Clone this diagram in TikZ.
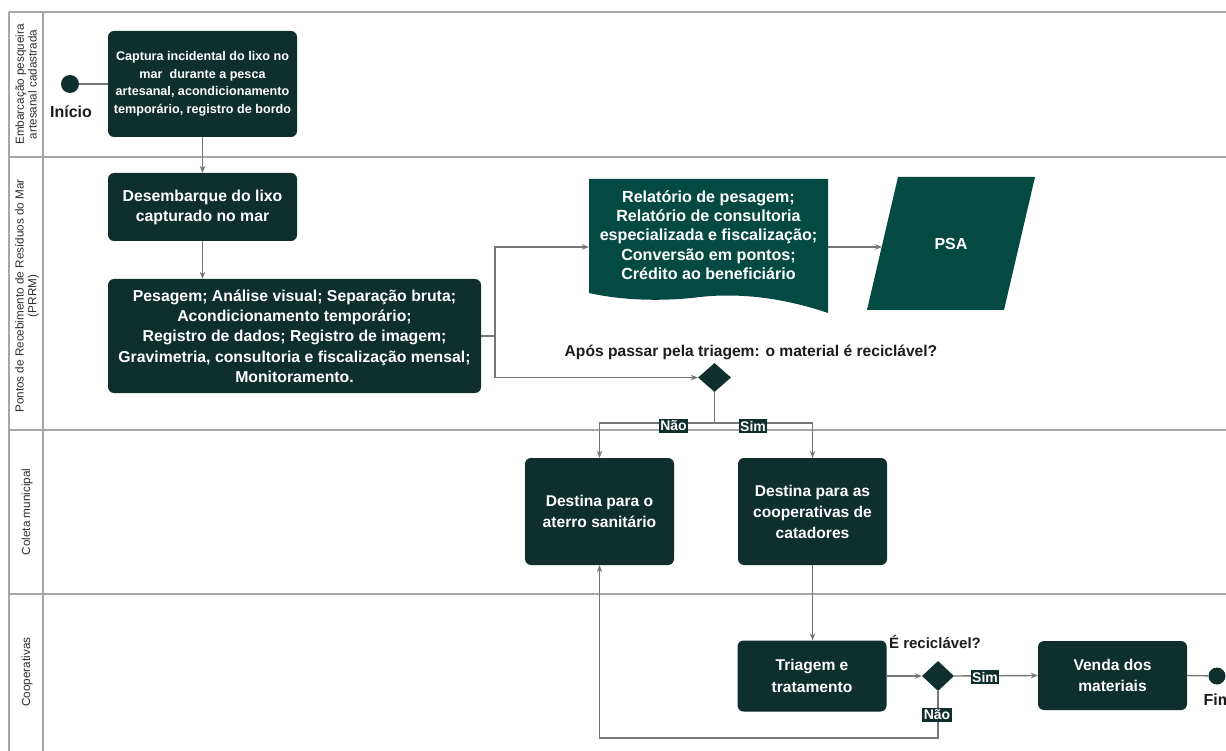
\documentclass[tikz,border=0pt]{standalone}
\usepackage{fontspec}
\setmainfont{Liberation Sans}
\usetikzlibrary{arrows.meta,shapes.geometric,calc}

\definecolor{boxdark}{HTML}{0F2F2C}
\definecolor{boxteal}{HTML}{054A42}
\definecolor{wirec}{HTML}{767676}
\definecolor{lanec}{HTML}{A6A6A6}
\definecolor{lanetext}{HTML}{2E2E2E}
\definecolor{labeltext}{HTML}{1C1C1C}

\newcommand{\fs}[2]{\fontsize{#1}{#2}\selectfont}

\begin{document}
\begin{tikzpicture}[x=1pt,y=-1pt,
  task/.style={rectangle, rounded corners=6pt, fill=boxdark, text=white,
    align=center, inner sep=0pt},
  wire/.style={draw=wirec, line width=1.4pt},
  arr/.style={wire, -{Stealth[length=7pt,width=5.5pt]}},
  laneline/.style={draw=lanec, line width=1.3pt},
  lanelbl/.style={rotate=90, align=center, text=lanetext, font=\fs{11.7}{12.8}},
  yn/.style={fill=boxdark, text=white, font=\fs{14}{16}\bfseries, inner sep=1.5pt},
  endpt/.style={circle, fill=boxdark, minimum size=18pt, inner sep=0pt},
  gate/.style={diamond, fill=boxdark, inner sep=0pt},
  caption/.style={text=labeltext, font=\fs{15}{18}\bfseries}
]
\useasboundingbox (0,0) rectangle (1226,751);
\fill[white] (0,0) rectangle (1226,751);

% swimlane frame
\draw[laneline] (9,12) -- (1230,12);
\draw[laneline] (9,157) -- (1230,157);
\draw[laneline] (9,430) -- (1230,430);
\draw[laneline] (9,594) -- (1230,594);
\draw[laneline] (9,12) -- (9,755);
\draw[laneline] (43,12) -- (43,755);

% lane titles
\node[lanelbl] (lane1) at (26,84.5) {Embarcação pesqueira\\artesanal cadastrada};
\node[lanelbl] (lane2) at (27,296) {Pontos de Recebimento de Resíduos do Mar\\(PRRM)};
\node[lanelbl] (lane3) at (27,512) {Coleta municipal};
\node[lanelbl] (lane4) at (27,672) {Cooperativas};

% lane 1
\node[endpt] (start) at (70,84) {};
\node[text=labeltext, font=\fs{16}{18}\bfseries] (startlbl) at (71,112) {Início};
\node[task, minimum width=189pt, minimum height=106pt, font=\fs{12.6}{17.5}\bfseries]
  (capt) at (202.5,84) {Captura incidental do lixo no\\mar\ \ durante a pesca\\artesanal, acondicionamento\\temporário, registro de bordo};

% lane 2
\node[task, minimum width=189pt, minimum height=68pt, font=\fs{15.8}{20}\bfseries]
  (desemb) at (202.5,207) {Desembarque do lixo\\capturado no mar};
\node[task, minimum width=373pt, minimum height=114pt, font=\fs{15.8}{20.3}\bfseries]
  (pesag) at (294.5,336) {Pesagem; Análise visual; Separação bruta;\\Acondicionamento temporário;\\Registro de dados; Registro de imagem;\\Gravimetria, consultoria e fiscalização mensal;\\Monitoramento.};

% document shape with wavy bottom
\node[minimum width=239pt, minimum height=136pt, inner sep=0pt] (rel) at (708.5,247) {};
\fill[boxteal] (589,293) -- (589,179) -- (828,179) -- (828,313)
  .. controls (790,300) and (745,292) .. (700,297)
  .. controls (660,302) and (620,300) .. (589,293) -- cycle;
\node[text=white, align=center, font=\fs{16.1}{19.2}\bfseries] (reltext) at (708.5,235)
  {Relatório de pesagem;\\Relatório de consultoria\\especializada e fiscalização;\\Conversão em pontos;\\Crédito ao beneficiário};

% data parallelogram
\fill[boxteal] (898,177) -- (1035,177) -- (1004,310) -- (867,310) -- cycle;
\node[text=white, font=\fs{16}{18}\bfseries] (psa) at (951,244) {PSA};
\coordinate (psain) at (882,247);

\node[caption, font=\fs{15.6}{18}\bfseries] (q1lbl) at (751,352) {Após passar pela triagem: o material é reciclável?};
\node[gate, minimum width=33pt, minimum height=29pt] (q1) at (714.5,377.5) {};

% lane 3
\node[task, minimum width=149pt, minimum height=107pt, font=\fs{15.6}{21.5}\bfseries]
  (aterro) at (599.5,511.5) {Destina para o\\aterro sanitário};
\node[task, minimum width=149pt, minimum height=107pt, font=\fs{15.6}{21}\bfseries]
  (coop) at (812.5,511.5) {Destina para as\\cooperativas de\\catadores};

% lane 4
\node[task, minimum width=149pt, minimum height=71pt, font=\fs{15.6}{21.5}\bfseries]
  (triag) at (812,676) {Triagem e\\tratamento};
\node[caption] (q2lbl) at (935,642) {É reciclável?};
\node[gate, minimum width=32pt, minimum height=30pt] (q2) at (938,676) {};
\node[task, minimum width=149pt, minimum height=69pt, font=\fs{15.6}{21.5}\bfseries]
  (venda) at (1112.5,675.5) {Venda dos\\materiais};
\node[endpt, minimum size=17pt] (fim) at (1217,676) {};
\node[anchor=west, text=labeltext, font=\fs{16}{18}\bfseries] (fimlbl) at (1200,700) {Fim};

% connectors
\draw[wire] (start) -- (capt.west);
\draw[arr] (capt.south) -- (desemb.north);
\draw[arr] (desemb.south) -- (desemb.south |- pesag.north);
\coordinate (split) at (495,336);
\draw[wire] (pesag.east) -- (split);
\draw[arr] (split) |- (rel.west);
\draw[arr] (split) |- (q1.west);
\draw[arr] (rel.east) -- (psain);
\coordinate (fork) at (714.5,423);
\draw[wire] (q1.south) -- (fork);
\draw[arr] (fork) -| (aterro.north);
\draw[arr] (fork) -| (coop.north);
\node[yn] (nao1) at (673.5,426) {Não};
\node[yn] (sim1) at (753,426) {Sim};
\draw[arr] (coop.south) -- (coop.south |- triag.north);
\draw[arr] (triag.east) -- (q2.west);
\draw[arr] (q2.east) -- (venda.west);
\node[yn] (sim2) at (985,677) {Sim};
\draw[wire] (venda.east) -- (fim);
\coordinate (back) at (938,738);
\draw[arr] (q2.south) -- (back) -| (aterro.south);
\node[yn] (nao2) at (937,715) {Não};
\end{tikzpicture}
\end{document}
